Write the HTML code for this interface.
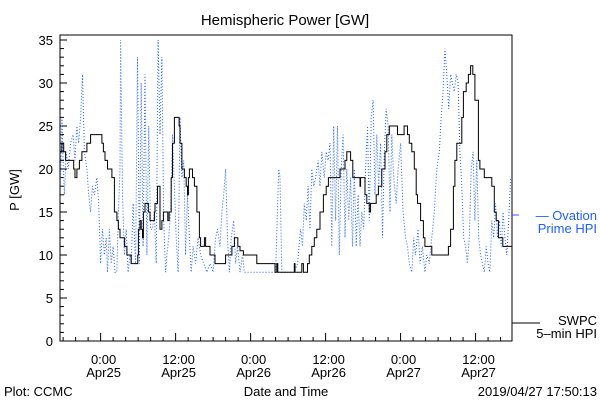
<!DOCTYPE html>
<html><head><meta charset="utf-8"><style>
html,body{margin:0;padding:0;background:#fff}
svg{display:block}
text{font-family:"Liberation Sans",sans-serif;font-size:13px;fill:#000}
</style></head><body>
<svg id="chart" width="600" height="400" viewBox="0 0 600 400">
<rect x="0" y="0" width="600" height="400" fill="#fff"/>
<text x="285" y="25" text-anchor="middle" style="font-size:15px">Hemispheric Power [GW]</text>
<text transform="translate(19,190) rotate(-90)" text-anchor="middle">P [GW]</text>
<text x="286" y="396" text-anchor="middle">Date and Time</text>
<text x="4" y="396">Plot: CCMC</text>
<text x="597" y="396" text-anchor="end">2019/04/27 17:50:13</text>
<g id="axes"></g>
<g id="series"></g>
<g>
<line x1="512" y1="215" x2="519" y2="215" stroke="#1f5fff" stroke-width="1"/>
<text x="597" y="220" text-anchor="end" style="fill:#1f5fff">— Ovation</text>
<text x="597" y="233" text-anchor="end" style="fill:#1f5fff">Prime HPI</text>
</g>
<g>
<line x1="512" y1="323" x2="540" y2="323" stroke="#000" stroke-width="1"/>
<text x="597" y="325" text-anchor="end">SWPC</text>
<text x="597" y="338" text-anchor="end">5–min HPI</text>
</g>
</svg>
<script>
// hours relative to 2019-04-25 00:00
const swpcTimes = [-6.4,-6.2,-5.9,-5.6,-4.3,-4.1,-3.8,-3.4,-3.0,-2.2,-1.6,0.2,0.45,0.7,1.1,1.8,2.2,2.6,2.85,3.1,3.8,4.2,4.9,5.95,6.05,6.3,6.5,6.7,6.85,7.1,7.65,7.9,8.6,8.7,9.1,9.5,9.8,10.05,10.75,10.96,11.3,11.5,11.8,12.56,12.7,13.0,13.4,13.7,13.9,14.05,14.2,14.7,15.0,15.4,15.8,16.0,16.6,16.8,17.5,18.3,20.0,21.0,21.4,21.95,22.3,22.85,25.0,27.9,28.2,28.35,31.0,31.1,32.2,32.45,33.1,33.4,33.8,34.2,34.6,35.1,35.65,36.1,36.45,38.3,39.1,39.4,40.0,40.35,41.5,41.6,42.3,42.6,43.0,43.2,44.1,44.45,45.0,45.5,45.8,46.2,47.5,48.56,49.1,49.4,49.8,50.2,50.5,50.7,51.2,51.65,51.9,53.0,55.65,56.0,56.45,56.7,57.0,57.8,58.05,58.5,58.85,59.2,59.55,59.9,60.45,60.7,61.4,62.6,63.0,63.3,63.65,64.35];
const swpcValues = [22,23,22,21,20,19,20,21,22,23,24,23,22,21,20,19,15,14,13,12,11,10,9,10,13,14,13,12,15,16,15,14,15,16,18,13,14,15,14,15,19,23,26,25,23,20,19,18,17,19,20,19,18,15,12,11,12,11,10,9,10,11,12,11,10.5,10,9,8,9,8,9,8,9,8,9,10,11,12,13,15,17,18,19,20,21,22,21,19,18,19,17,16,15,16,17,18,20,22,24,25,24,25,24,23,22,20,17,16,14,12,11,10,11,13,18,21,23,26,29,30,31,32,31,28,21,20,19,18,15,14,12,11];
const ovTimes = [-6.4,-6.2,-6,-5.8,-5.5,-5.2,-4.8,-4.4,-4.1,-3.8,-3.5,-3.2,-2.9,-2.6,-2.2,-1.9,-1.6,-1.3,-1.0,-0.6,-0.3,0,0.3,0.6,0.9,1.1,1.4,1.7,2.0,2.3,2.6,2.8,3.1,3.2,3.5,3.8,4.1,4.4,4.7,4.9,5.2,5.4,5.6,5.9,6.2,6.5,6.8,7.1,7.4,7.7,8.0,8.3,8.6,8.9,9.2,9.5,9.8,10.1,10.4,10.6,10.9,11.2,11.5,11.8,12.1,12.4,12.7,13.0,13.3,13.6,13.9,14.2,14.5,14.8,15.2,15.6,16.0,16.5,17.0,17.5,18.0,18.4,18.7,19.1,19.4,19.7,20.0,20.3,20.6,20.9,21.3,21.6,21.9,22.3,22.7,23,24,25,26,27,28,28.5,28.7,29,30,31,31.5,32,32.3,32.6,32.9,33.2,33.5,33.8,34.1,34.4,34.8,35.1,35.4,35.8,36.1,36.4,36.7,37.0,37.3,37.6,37.9,38.2,38.5,38.8,39.1,39.4,39.7,40,40.3,40.6,40.9,41.2,41.5,41.8,42.1,42.4,42.7,43.0,43.3,43.6,43.9,44.2,44.5,44.8,45.1,45.4,45.7,46.0,46.3,46.6,46.9,47.3,47.6,48,48.4,48.8,49.1,49.4,49.8,50.1,50.4,50.8,51.1,51.5,51.9,52.2,52.6,53,53.4,53.8,54.2,54.5,54.8,55.1,55.4,55.7,56.0,56.3,56.6,56.9,57.2,57.5,57.8,58.1,58.4,58.7,59.0,59.3,59.6,59.9,60.2,60.5,60.8,61.1,61.4,61.7,62,62.3,62.6,62.9,63.2,63.5,63.8,64.1,64.4,64.7,65,65.3,65.6];
const ovValues = [19,26,21,17,22,20,23,24,21,25,23,26,31,22,20,17,15,18,17,19,16,9,13,10,12,8,13,9,11,8,8,14,20,35,17,10,13,8,10,9,16,12,9,33,9,30,11,31,10,25,13,13,15,9,35,24,33,14,8,10,12,15,24,18,12,8,26,19,21,10,17,12,8,11,9,12,10,9,8,9,8,12,13,11,15,17,20,12,8,12,14,9,11,8,10,8,8,8,8,8,8,20,19,8,8,8,9,13,11,16,14,18,13,20,18,19,21,18,22,19,22,21,23,11,25,14,25,10,20,24,12,20,14,19,11,20,11,17,11,15,13,20,25,14,26,28,17,24,18,23,12,22,27,25,15,24,19,16,20,23,15,12,11,9,8,12,10,13,9,11,8,10,9,12,15,20,22,26,29,34,31,27,31,30,29,31,30,22,18,12,11,9,12,20,22,14,21,12,10,9,8,11,9,8,14,12,16,12,14,11,15,12,10,14,19];
const yTickLabels = ["0","5","10","15","20","25","30","35"];
const yTickValues = [0,5,10,15,20,25,30,35];
const xMajorHours = [0,12,24,36,48,60];
const xMajorLabels = [["0:00","Apr25"],["12:00","Apr25"],["0:00","Apr26"],["12:00","Apr26"],["0:00","Apr27"],["12:00","Apr27"]];

const NS='http://www.w3.org/2000/svg';
const L=60,R=512,T=35,B=341;
const tMin=-6.5,tMax=65.83;
function xs(t){return L+(t-tMin)/(tMax-tMin)*(R-L);}
function ys(v){return B-v*8.6;}
function mk(tag,attrs,parent){const e=document.createElementNS(NS,tag);for(const k in attrs)e.setAttribute(k,attrs[k]);parent.appendChild(e);return e;}
const axes=document.getElementById('axes'), series=document.getElementById('series');

const frame=mk('rect',{x:L,y:T,width:R-L,height:B-T,fill:'none',stroke:'#000','stroke-width':1},axes);


for(let v=0;v<=35;v++){
  const y=ys(v), major=v%5===0;
  const tk=mk('line',{x1:L,x2:L+(major?7:4),y1:y,y2:y,stroke:'#000'},axes);
  
  
}
yTickValues.forEach((v,i)=>{
  const t=mk('text',{x:L-7,y:ys(v)+5,'text-anchor':'end'},axes);
  t.textContent=yTickLabels[i];
  
  
});
for(let h=-6;h<=64;h+=2){
  const x=xs(h), major=h%12===0;
  const tk=mk('line',{x1:x,x2:x,y1:B,y2:B-(major?8:4),stroke:'#000'},axes);
  
  
}
xMajorHours.forEach((h,i)=>{
  const t1=mk('text',{x:xs(h)+3,y:B+23,'text-anchor':'middle'},axes);
  t1.textContent=xMajorLabels[i][0];
  
  
  const t2=mk('text',{x:xs(h)+3,y:B+36,'text-anchor':'middle'},axes);
  t2.textContent=xMajorLabels[i][1];
  
  
});

let od='';
ovTimes.forEach((t,i)=>{od+=(i?'L':'M')+xs(t).toFixed(1)+' '+ys(ovValues[i]).toFixed(1);});
const ov=mk('path',{d:od,fill:'none',stroke:'#1f5fff','stroke-width':1,'stroke-dasharray':'1 2'},series);



let sd='';
swpcTimes.forEach((t,i)=>{
  const x=xs(t).toFixed(1), y=ys(swpcValues[i]).toFixed(1);
  if(i===0) sd+='M'+x+' '+y; else sd+='H'+x+'V'+y;
});
sd+='H'+R;
const sw=mk('path',{d:sd,fill:'none',stroke:'#000','stroke-width':1},series);


</script>
</body></html>
